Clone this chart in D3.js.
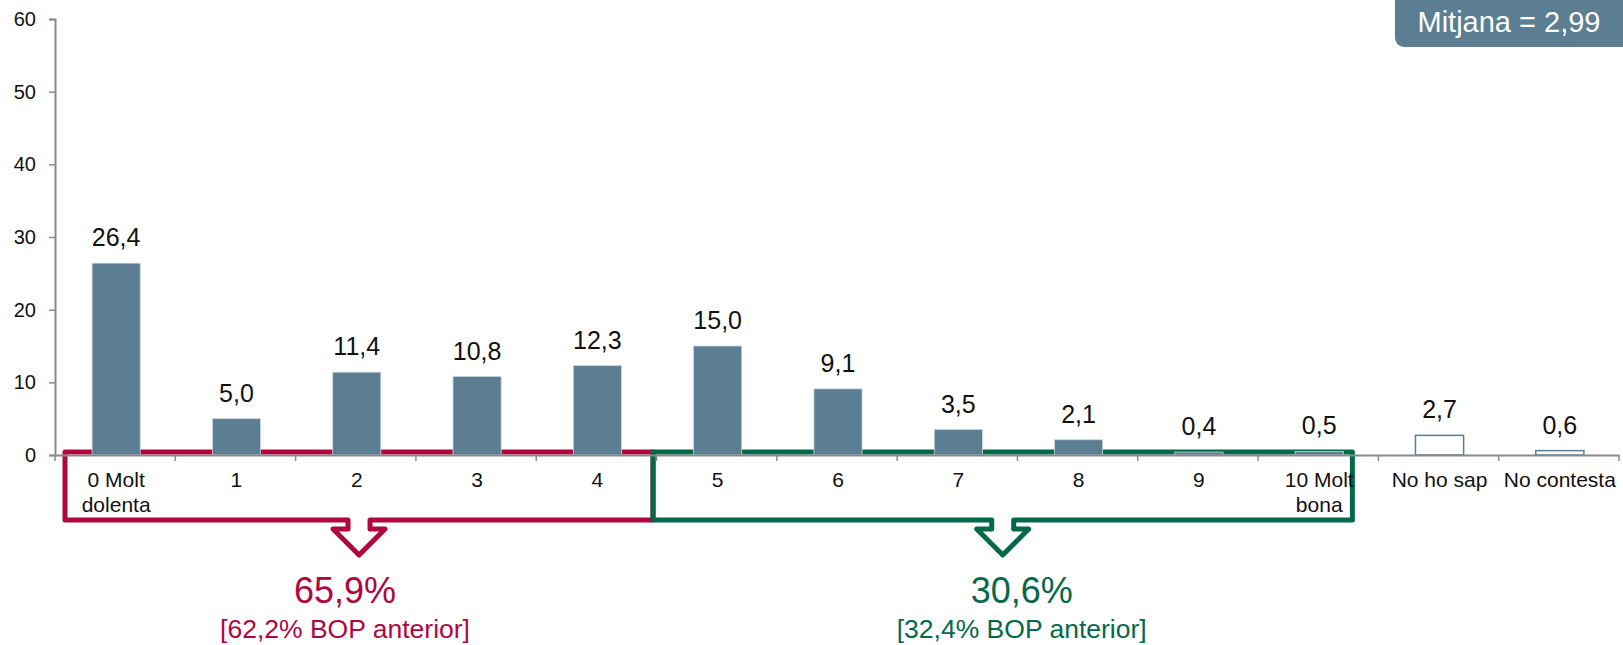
<!DOCTYPE html>
<html>
<head>
<meta charset="utf-8">
<script src="https://cdn.jsdelivr.net/npm/d3@7"></script>
<style>
  body { margin: 0; background: #fff; }
</style>
</head>
<body>
<div class="valoracioGraph"></div>
<script>
// categories and values
const categories = ['0 Molt\ndolenta', '1', '2', '3', '4', '5', '6', '7', '8', '9', '10 Molt\nbona', 'No ho sap', 'No contesta'];
const values = [26.4, 5.0, 11.4, 10.8, 12.3, 15.0, 9.1, 3.5, 2.1, 0.4, 0.5, 2.7, 0.6];
const hollowCategories = ['No ho sap', 'No contesta'];
const yTicks = [0, 10, 20, 30, 40, 50, 60];

// groups under the axis
const groupFrom = ['0 Molt\ndolenta', '5'];
const groupTo = ['4', '10 Molt\nbona'];
const groupTotals = ['65,9%', '30,6%'];
const groupPrevious = ['[62,2% BOP anterior]', '[32,4% BOP anterior]'];
const meanLabel = 'Mitjana = 2,99';

function valoracioGraph() {
    const width = 1623;
    const height = 645;
    const margin = {top: 19, right: 4, bottom: 190, left: 55};
    const fontFamily = '"Liberation Sans", Arial, sans-serif';
    const barColor = '#5c7e92';
    const axisColor = '#8a8a8a';
    const groupColors = ['#b0073f', '#04694a'];

    const locale = d3.formatLocale({decimal: ',', thousands: '.', grouping: [3], currency: ['', '€']});
    const fmt = locale.format('.1f');

    const svg = d3.select('.valoracioGraph')
        .append('svg')
        .attr('width', width)
        .attr('height', height)
        .attr('style', 'font-family: ' + fontFamily);

    // Horizontal scale
    const scaleX = d3.scaleBand()
        .domain(categories)
        .range([margin.left, width - margin.right])
        .padding(0);

    // Vertical scale
    const scaleY = d3.scaleLinear()
        .domain([0, 60])
        .range([height - margin.bottom, margin.top]);

    const bw = scaleX.bandwidth();
    const y0 = scaleY(0);

    // brackets + arrows (under the bars)
    const brackets = svg.append('g');
    for (let i = 0; i < groupFrom.length; i++) {
        let left, right;
        if (i === 0) {
            left = scaleX(groupFrom[i]) + 10;
            right = scaleX(groupTo[i]) + bw - 3.5;
        } else {
            left = scaleX(groupFrom[i]) - 3.5;
            right = scaleX(groupTo[i]) + bw - 26;
        }
        const cx = (left + right) / 2;
        const top = y0 - 3;
        const bottom = y0 + 65;
        const step = bottom + 9;
        const tip = bottom + 35;
        const p = d3.path();
        p.moveTo(left, top);
        p.lineTo(left, bottom);
        p.lineTo(cx - 11, bottom);
        p.lineTo(cx - 11, step);
        p.lineTo(cx - 26, step);
        p.lineTo(cx, tip);
        p.lineTo(cx + 26, step);
        p.lineTo(cx + 11, step);
        p.lineTo(cx + 11, bottom);
        p.lineTo(right, bottom);
        p.lineTo(right, top);
        p.closePath();
        brackets.append('path')
            .attr('d', p.toString())
            .attr('fill', 'none')
            .attr('stroke', groupColors[i])
            .attr('stroke-width', 5)
            .attr('stroke-linejoin', 'round');

        // text is not centred on the arrow in the original
        const tx = i === 0 ? cx - 14 : cx + 19;
        brackets.append('text')
            .attr('x', tx)
            .attr('y', y0 + 148)
            .attr('text-anchor', 'middle')
            .attr('font-size', 36)
            .attr('fill', groupColors[i])
            .text(groupTotals[i]);
        brackets.append('text')
            .attr('x', tx)
            .attr('y', y0 + 183)
            .attr('text-anchor', 'middle')
            .attr('font-size', 26.5)
            .attr('fill', groupColors[i])
            .text(groupPrevious[i]);
    }

    // y axis
    const yAxis = svg.append('g')
        .attr('transform', `translate(${margin.left}, 0)`)
        .call(d3.axisLeft(scaleY).tickValues(yTicks).tickSize(6).tickPadding(13));
    yAxis.select('.domain').attr('stroke', axisColor).attr('stroke-width', 2);
    yAxis.selectAll('.tick line').attr('stroke', axisColor).attr('stroke-width', 1.5);
    yAxis.selectAll('.tick text')
        .attr('font-size', 20)
        .attr('font-family', fontFamily)
        .attr('fill', '#111');

    // bars
    const isHollow = d => hollowCategories.includes(d.cat);
    const data = categories.map((c, i) => ({cat: c, value: values[i]}));

    svg.append('g')
        .selectAll('rect')
        .data(data)
        .join('rect')
        .attr('x', d => scaleX(d.cat) + bw * 0.3 + 1)
        .attr('y', d => scaleY(d.value))
        .attr('width', bw * 0.4)
        .attr('height', d => y0 - scaleY(d.value))
        .attr('fill', d => isHollow(d) ? '#fff' : barColor)
        .attr('stroke', d => isHollow(d) ? barColor : '#cdd8de')
        .attr('stroke-width', d => isHollow(d) ? 1.5 : 0.8);

    // value labels
    svg.append('g')
        .selectAll('text')
        .data(data)
        .join('text')
        .attr('x', d => scaleX(d.cat) + bw / 2 + 1)
        .attr('y', d => scaleY(d.value) - 17)
        .attr('text-anchor', 'middle')
        .attr('font-size', 25)
        .attr('fill', '#111')
        .text(d => fmt(d.value));

    // x axis
    const xAxis = svg.append('g')
        .attr('transform', `translate(0, ${y0})`)
        .call(d3.axisBottom(scaleX).tickSize(0).tickFormat(''));
    xAxis.select('.domain').attr('stroke', axisColor).attr('stroke-width', 2);
    xAxis.selectAll('.tick').remove();

    // ticks between the categories
    const bounds = categories.map(c => scaleX(c)).concat([scaleX(categories[categories.length - 1]) + bw]);
    xAxis.append('g')
        .selectAll('line')
        .data(bounds)
        .join('line')
        .attr('x1', d => d)
        .attr('x2', d => d)
        .attr('y1', 0)
        .attr('y2', 6)
        .attr('stroke', axisColor)
        .attr('stroke-width', 1.5);

    // category labels, two lines where needed
    const labels = xAxis.append('g')
        .selectAll('text')
        .data(categories)
        .join('text')
        .attr('x', d => scaleX(d) + bw / 2 + 1)
        .attr('y', 32)
        .attr('text-anchor', 'middle')
        .attr('font-size', 21)
        .attr('fill', '#111');
    labels.each(function(d) {
        const lines = d.split('\n');
        d3.select(this).selectAll('tspan')
            .data(lines)
            .join('tspan')
            .attr('x', scaleX(d) + bw / 2 + 1)
            .attr('dy', (l, j) => j === 0 ? 0 : 25)
            .text(l => l);
    });

    // mean box, top right
    const meanBox = svg.append('g');
    meanBox.append('rect')
        .attr('x', 1395)
        .attr('y', -12)
        .attr('width', 250)
        .attr('height', 59)
        .attr('rx', 9)
        .attr('fill', barColor);
    meanBox.append('text')
        .attr('x', 1509)
        .attr('y', 32)
        .attr('text-anchor', 'middle')
        .attr('font-size', 29)
        .attr('fill', '#fff')
        .text(meanLabel);
}

valoracioGraph();
</script>
</body>
</html>
